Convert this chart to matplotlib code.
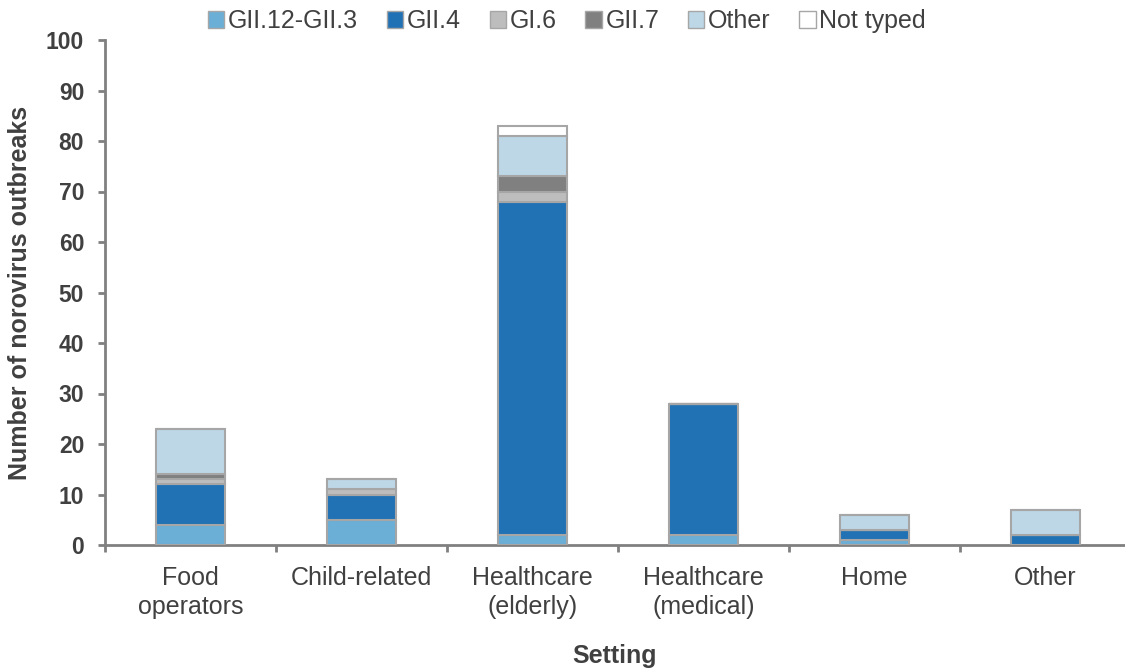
import matplotlib
matplotlib.use("Agg")
import matplotlib.pyplot as plt
import numpy as np
from matplotlib.patches import Patch

plt.rcParams['font.family'] = ['Liberation Sans', 'DejaVu Sans']

categories = ["Food\noperators", "Child-related", "Healthcare\n(elderly)", "Healthcare\n(medical)", "Home", "Other"]
series_names = ["GII.12-GII.3", "GII.4", "GI.6", "GII.7", "Other", "Not typed"]
gii12 = [4, 5, 2, 2, 1, 0]
gii4 = [8, 5, 66, 26, 2, 2]
gi6 = [1, 1, 2, 0, 0, 0]
gii7 = [1, 0, 3, 0, 0, 0]
other = [9, 2, 8, 0, 3, 5]
not_typed = [0, 0, 2, 0, 0, 0]
series = [gii12, gii4, gi6, gii7, other, not_typed]
colors = ["#6baed6", "#2171b5", "#bdbdbd", "#808080", "#bdd7e7", "#ffffff"]

fig = plt.figure(figsize=(11.25, 6.7), dpi=100)
ax = fig.add_axes([105/1125, 125/670, 1026/1125, 505/670])

x = np.arange(len(categories))
bottom = np.zeros(len(categories))
for name, vals, c in zip(series_names, series, colors):
    v = np.array(vals, dtype=float)
    ax.bar(x, v, 0.4, bottom=bottom, color=c, edgecolor="#a6a6a6", linewidth=1.5, label=name, zorder=3)
    bottom += v

ax.set_xlim(-0.5, len(categories) - 0.5)
ax.set_ylim(0, 100)
ax.set_yticks(np.arange(0, 101, 10))
ax.set_xticks(x)
ax.set_xticklabels(categories, fontsize=18, color="#404040", linespacing=1.25)
ax.set_xticks(np.arange(-0.5, len(categories), 1), minor=True)
ax.tick_params(axis='x', which='major', length=0, pad=15)
ax.tick_params(axis='x', which='minor', length=5, width=2, color="#808080", direction='out')
ax.tick_params(axis='y', length=5, width=2, color="#808080", direction='out', labelsize=16.5,
               labelcolor="#404040", pad=10)
for lbl in ax.get_yticklabels():
    lbl.set_fontweight('bold')

for s in ["top", "right"]:
    ax.spines[s].set_visible(False)
for s in ["left", "bottom"]:
    ax.spines[s].set_color("#808080")
    ax.spines[s].set_linewidth(2)

ax.set_ylabel("Number of norovirus outbreaks", fontsize=18, fontweight='bold', color="#404040", labelpad=10)
fig.text(615/1125, 1 - 656/670, "Setting", fontsize=18, fontweight='bold', color="#404040", ha='center', va='center')

handles = [Patch(facecolor=c, edgecolor="#a6a6a6", linewidth=1) for c in colors]
fig.legend(handles, series_names, loc='center', bbox_to_anchor=(567/1125, 1 - 21/670), ncol=6,
           frameon=False, fontsize=18, handlelength=0.65, handleheight=0.65, handletextpad=0.15,
           columnspacing=1.15, labelcolor="#404040", borderpad=0)

fig.savefig("out.png", dpi=100)
